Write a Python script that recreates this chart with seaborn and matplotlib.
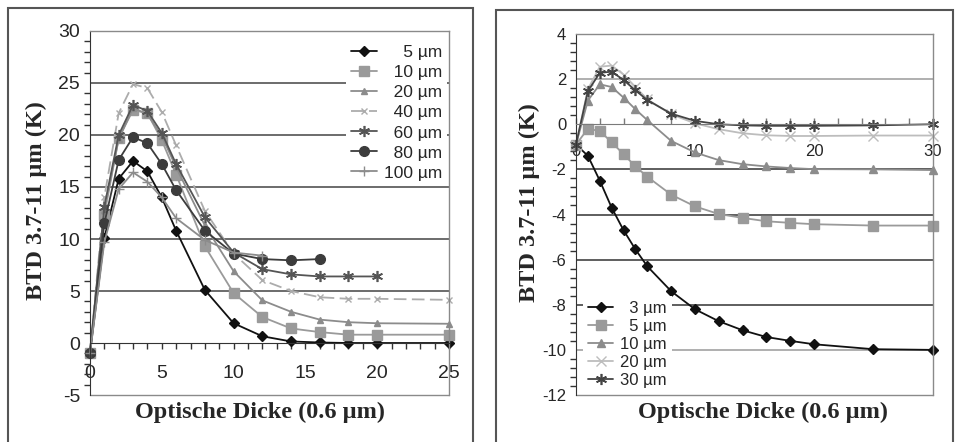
import matplotlib
matplotlib.use("Agg")
import matplotlib.pyplot as plt
from matplotlib.patches import Rectangle
from matplotlib.ticker import MultipleLocator
import seaborn as sns

sns.set_style("white")
plt.rcParams["font.family"] = ["Liberation Sans", "DejaVu Sans"]
plt.rcParams["axes.unicode_minus"] = False

# left chart: BTD vs optical depth, radii 5..100 um
x_left = [0, 1, 2, 3, 4, 5, 6, 8, 10, 12, 14, 16, 18, 20, 25]
btd_5 = [-1, 10.1, 15.8, 17.5, 16.5, 14.0, 10.8, 5.1, 1.9, 0.65, 0.15, 0.05, 0.0, 0.0, 0.0]
btd_10 = [-1, 12.3, 19.7, 22.4, 22.1, 19.5, 16.2, 9.3, 4.8, 2.5, 1.4, 1.05, 0.8, 0.8, 0.8]
btd_20 = [-1, 12.8, 19.6, 22.6, 22.0, 19.9, 16.9, 11.3, 6.9, 4.1, 3.0, 2.25, 2.0, 1.9, 1.85]
btd_40 = [-1, 14.0, 22.1, 24.9, 24.5, 22.2, 19.0, 12.7, 8.6, 6.05, 5.0, 4.4, 4.25, 4.25, 4.15]
btd_60 = [-1, 13.1, 20.0, 22.9, 22.3, 20.2, 17.2, 12.1, 8.7, 7.1, 6.6, 6.4, 6.4, 6.4]
btd_80 = [-1, 11.5, 17.6, 19.8, 19.2, 17.2, 14.7, 10.8, 8.6, 8.07, 7.95, 8.07]
btd_100 = [-1, 9.7, 14.8, 16.4, 15.5, 14.0, 12.0, 9.9, 8.7, 8.4]
labels_left = ["\u2007\u20075 µm", "\u200710 µm", "\u200720 µm", "\u200740 µm",
               "\u200760 µm", "\u200780 µm", "100 µm"]

# right chart: radii 3..30 um
x_right = [0, 1, 2, 3, 4, 5, 6, 8, 10, 12, 14, 16, 18, 20, 25, 30]
btd_r3 = [-0.9, -1.4, -2.5, -3.7, -4.7, -5.55, -6.3, -7.4, -8.2, -8.73, -9.13, -9.43, -9.6, -9.75, -9.97, -10.0]
btd_r5 = [-0.9, -0.2, -0.3, -0.8, -1.33, -1.87, -2.33, -3.12, -3.64, -3.98, -4.15, -4.3, -4.37, -4.43, -4.49, -4.49]
btd_r10 = [-0.9, 1.05, 1.77, 1.65, 1.18, 0.66, 0.18, -0.74, -1.25, -1.59, -1.77, -1.87, -1.94, -1.99, -2.0, -2.03]
btd_r20 = [-0.9, 1.55, 2.55, 2.6, 2.2, 1.65, 1.1, 0.44, 0.04, -0.22, -0.4, -0.49, -0.52, -0.52, -0.5, -0.5]
btd_r30 = [-0.9, 1.47, 2.28, 2.33, 1.96, 1.5, 1.07, 0.47, 0.15, 0.0, -0.05, -0.07, -0.07, -0.07, -0.05, 0.0]
labels_right = ["\u20073 µm", "\u20075 µm", "10 µm", "20 µm", "30 µm"]

ASTERISK = (6, 2, 0)


def draw(ax, xs, ys, label, color, marker, ms, ls="-", mew=1.0):
    sns.lineplot(x=xs[:len(ys)], y=ys, ax=ax, color=color, marker=marker,
                 markersize=ms, linestyle=ls, linewidth=1.3, label=label,
                 markeredgecolor=color, markerfacecolor=color,
                 markeredgewidth=mew, sort=False, clip_on=False)


def style_axis(ax, ymin, ymax, xmax, ymaj, ymin_step, xmaj, xmin_step,
               xdir, xpad, tick_fs, axis_col):
    ax.set_xlim(0, xmax)
    ax.set_ylim(ymin, ymax)
    ax.yaxis.set_major_locator(MultipleLocator(ymaj))
    ax.yaxis.set_minor_locator(MultipleLocator(ymin_step))
    ax.xaxis.set_major_locator(MultipleLocator(xmaj))
    ax.xaxis.set_minor_locator(MultipleLocator(xmin_step))
    ax.tick_params(axis="y", which="major", direction="inout", length=8,
                   width=1, color="#333333", labelsize=tick_fs, pad=3)
    ax.tick_params(axis="y", which="minor", direction="out", length=4,
                   width=1, color="#333333", left=True)
    ax.tick_params(axis="x", which="both", direction=xdir, length=4,
                   width=1, color=axis_col, labelsize=tick_fs, pad=xpad,
                   bottom=True)
    ax.spines["bottom"].set_position(("data", 0))
    ax.spines["bottom"].set_color(axis_col)
    ax.spines["left"].set_color("#333333")
    for s in ["top", "right"]:
        ax.spines[s].set_color("#8a8a8a")
        ax.spines[s].set_linewidth(1.0)
    ax.axhline(ymin, color="#8a8a8a", lw=1.0, clip_on=False, zorder=1)
    ax.set_xlabel("Optische Dicke (0.6 µm)", fontfamily="Liberation Serif",
                  fontweight="bold", fontsize=17.5)
    ax.set_ylabel("BTD 3.7-11 µm (K)", fontfamily="Liberation Serif",
                  fontweight="bold", fontsize=17.5)


fig = plt.figure(figsize=(9.56, 4.42), dpi=100)

# panel frames
fig.add_artist(Rectangle((8 / 956, -0.05), 465 / 956, 1.05 - 8 / 442,
                         transform=fig.transFigure, fill=False,
                         edgecolor="#555555", lw=1.5))
fig.add_artist(Rectangle((496 / 956, -0.05), 457 / 956, 1.05 - 10 / 442,
                         transform=fig.transFigure, fill=False,
                         edgecolor="#555555", lw=1.5))

# ---------------- left panel
ax1 = fig.add_axes([0.0941, 0.1063, 0.3756, 0.8236])
for g in [5, 10, 15, 20, 25]:
    ax1.axhline(g, color="#444444", lw=1.1, zorder=0)
draw(ax1, x_left, btd_5, labels_left[0], "#111111", "D", 5)
draw(ax1, x_left, btd_10, labels_left[1], "#9a9a9a", "s", 7)
draw(ax1, x_left, btd_20, labels_left[2], "#8c8c8c", "^", 4)
draw(ax1, x_left, btd_40, labels_left[3], "#acacac", "x", 5, ls=(0, (7, 3)))
draw(ax1, x_left, btd_60, labels_left[4], "#555555", ASTERISK, 8, mew=1.2)
draw(ax1, x_left, btd_80, labels_left[5], "#3c3c3c", "o", 7)
draw(ax1, x_left, btd_100, labels_left[6], "#8c8c8c", "+", 7)
style_axis(ax1, -5, 30, 25, 5, 1, 5, 1, "out", 12, 14, "#333333")
ax1.yaxis.set_label_coords(-0.12, 0.535)
ax1.xaxis.set_label_coords(0.474, -0.02)
leg1 = ax1.legend(loc="upper right", bbox_to_anchor=(0.995, 0.975),
                  frameon=True, facecolor="white", edgecolor="none",
                  framealpha=1, fontsize=12.5, handlelength=1.5,
                  handletextpad=0.4, labelspacing=0.28, borderpad=0.3,
                  borderaxespad=0.0, fancybox=False)

# ---------------- right panel
ax2 = fig.add_axes([0.6025, 0.1063, 0.3734, 0.8168])
grid_cols = {2: "#9a9a9a", -2: "#333333", -4: "#333333", -6: "#333333",
             -8: "#333333", -10: "#9a9a9a"}
for g, c in grid_cols.items():
    ax2.axhline(g, color=c, lw=1.1, zorder=0)
draw(ax2, x_right, btd_r3, labels_right[0], "#111111", "D", 5)
draw(ax2, x_right, btd_r5, labels_right[1], "#9a9a9a", "s", 7)
draw(ax2, x_right, btd_r10, labels_right[2], "#8c8c8c", "^", 6)
draw(ax2, x_right, btd_r20, labels_right[3], "#bdbdbd", "x", 7)
draw(ax2, x_right, btd_r30, labels_right[4], "#444444", ASTERISK, 8, mew=1.2)
style_axis(ax2, -12, 4, 30, 2, 0.4, 10, 2, "in", 14, 12, "#7a7a7a")
ax2.yaxis.set_label_coords(-0.10, 0.532)
ax2.xaxis.set_label_coords(0.524, -0.02)
leg2 = ax2.legend(loc="lower left", bbox_to_anchor=(0.02, 0.005),
                  frameon=True, facecolor="white", edgecolor="none",
                  framealpha=1, fontsize=12, handlelength=1.5,
                  handletextpad=0.4, labelspacing=0.18, borderpad=0.3,
                  borderaxespad=0.0, fancybox=False)

fig.savefig("out.png", dpi=100)
